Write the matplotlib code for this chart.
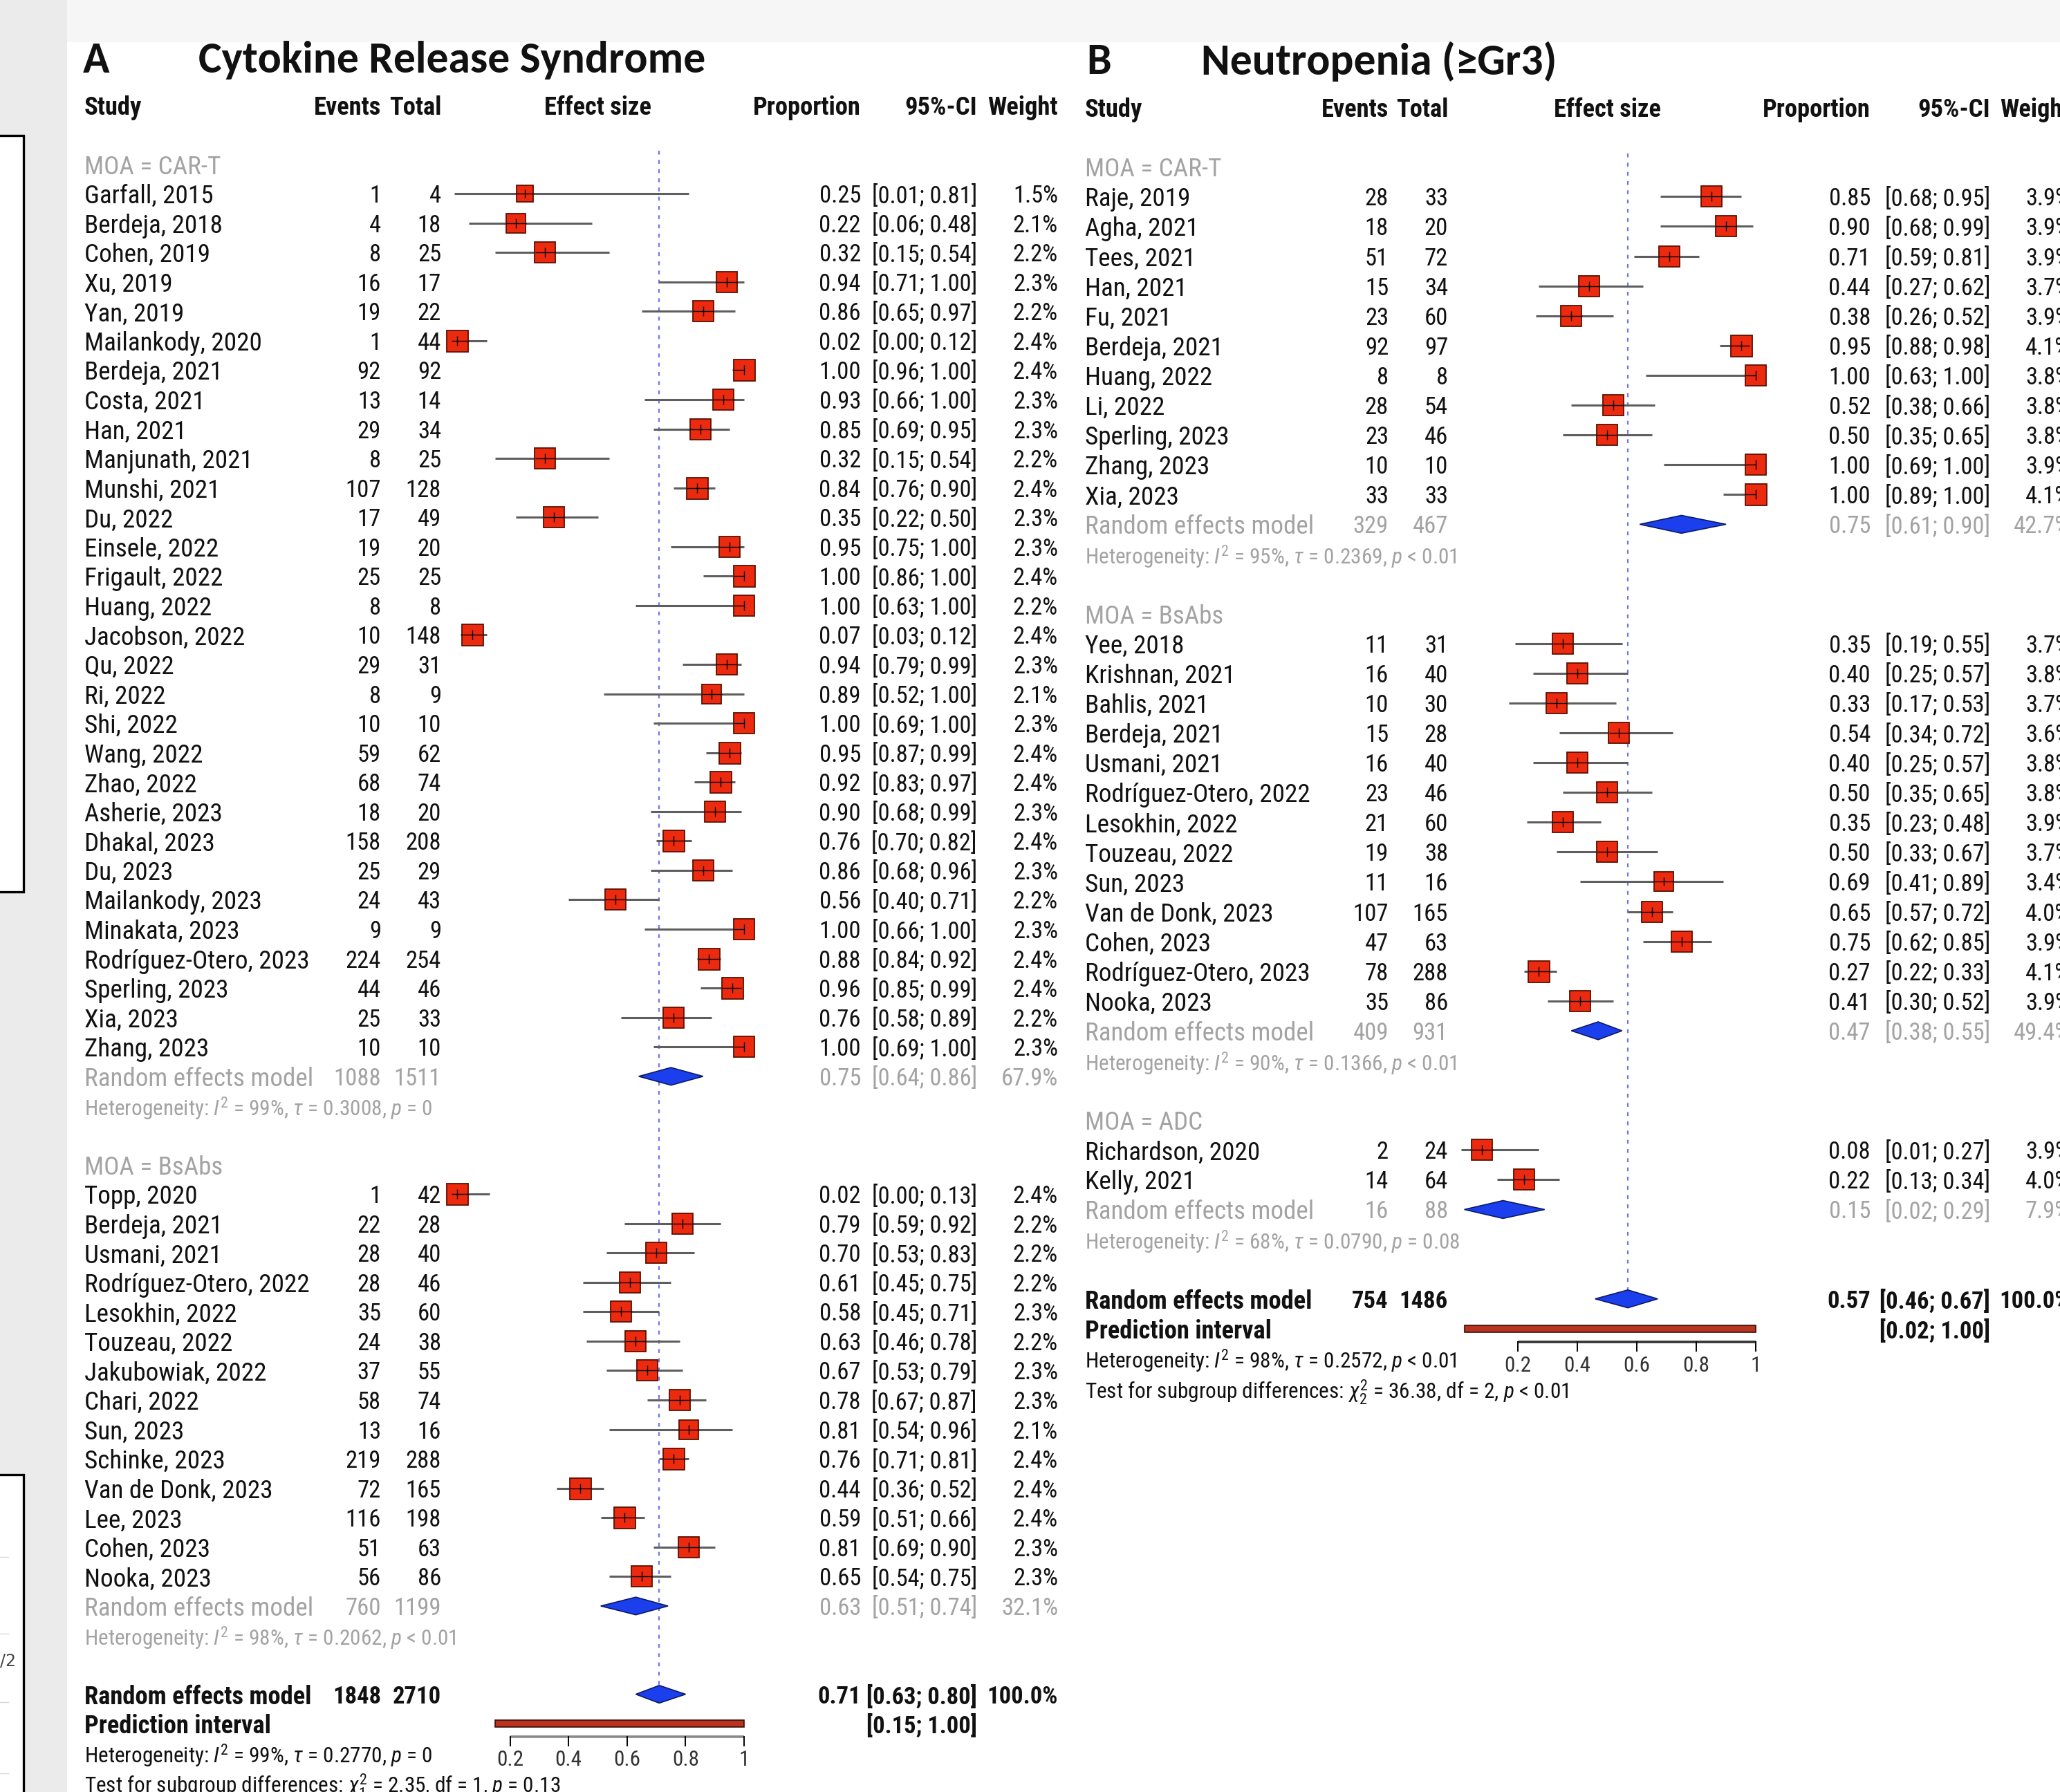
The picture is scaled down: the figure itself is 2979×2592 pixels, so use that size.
import matplotlib.pyplot as plt
from matplotlib.patches import Polygon, Rectangle
from matplotlib.textpath import TextPath
from matplotlib.font_manager import FontProperties

# ---------------- A: Cytokine Release Syndrome ----------------
crs_cart_study = ["Garfall, 2015", "Berdeja, 2018", "Cohen, 2019", "Xu, 2019", "Yan, 2019",
                  "Mailankody, 2020", "Berdeja, 2021", "Costa, 2021", "Han, 2021", "Manjunath, 2021",
                  "Munshi, 2021", "Du, 2022", "Einsele, 2022", "Frigault, 2022", "Huang, 2022",
                  "Jacobson, 2022", "Qu, 2022", "Ri, 2022", "Shi, 2022", "Wang, 2022", "Zhao, 2022",
                  "Asherie, 2023", "Dhakal, 2023", "Du, 2023", "Mailankody, 2023", "Minakata, 2023",
                  "Rodríguez-Otero, 2023", "Sperling, 2023", "Xia, 2023", "Zhang, 2023"]
crs_cart_events = [1, 4, 8, 16, 19, 1, 92, 13, 29, 8, 107, 17, 19, 25, 8, 10, 29, 8, 10, 59, 68,
                   18, 158, 25, 24, 9, 224, 44, 25, 10]
crs_cart_total = [4, 18, 25, 17, 22, 44, 92, 14, 34, 25, 128, 49, 20, 25, 8, 148, 31, 9, 10, 62, 74,
                  20, 208, 29, 43, 9, 254, 46, 33, 10]
crs_cart_prop = [0.25, 0.22, 0.32, 0.94, 0.86, 0.02, 1.00, 0.93, 0.85, 0.32, 0.84, 0.35, 0.95, 1.00,
                 1.00, 0.07, 0.94, 0.89, 1.00, 0.95, 0.92, 0.90, 0.76, 0.86, 0.56, 1.00, 0.88, 0.96,
                 0.76, 1.00]
crs_cart_lo = [0.01, 0.06, 0.15, 0.71, 0.65, 0.00, 0.96, 0.66, 0.69, 0.15, 0.76, 0.22, 0.75, 0.86,
               0.63, 0.03, 0.79, 0.52, 0.69, 0.87, 0.83, 0.68, 0.70, 0.68, 0.40, 0.66, 0.84, 0.85,
               0.58, 0.69]
crs_cart_hi = [0.81, 0.48, 0.54, 1.00, 0.97, 0.12, 1.00, 1.00, 0.95, 0.54, 0.90, 0.50, 1.00, 1.00,
               1.00, 0.12, 0.99, 1.00, 1.00, 0.99, 0.97, 0.99, 0.82, 0.96, 0.71, 1.00, 0.92, 0.99,
               0.89, 1.00]
crs_cart_weight = [1.5, 2.1, 2.2, 2.3, 2.2, 2.4, 2.4, 2.3, 2.3, 2.2, 2.4, 2.3, 2.3, 2.4, 2.2, 2.4,
                   2.3, 2.1, 2.3, 2.4, 2.4, 2.3, 2.4, 2.3, 2.2, 2.3, 2.4, 2.4, 2.2, 2.3]
crs_cart_re = (1088, 1511, 0.75, 0.64, 0.86, 67.9)
crs_cart_het = r"Heterogeneity: $I^2$ = 99%, $\tau$ = 0.3008, $p$ = 0"

crs_bsab_study = ["Topp, 2020", "Berdeja, 2021", "Usmani, 2021", "Rodríguez-Otero, 2022",
                  "Lesokhin, 2022", "Touzeau, 2022", "Jakubowiak, 2022", "Chari, 2022", "Sun, 2023",
                  "Schinke, 2023", "Van de Donk, 2023", "Lee, 2023", "Cohen, 2023", "Nooka, 2023"]
crs_bsab_events = [1, 22, 28, 28, 35, 24, 37, 58, 13, 219, 72, 116, 51, 56]
crs_bsab_total = [42, 28, 40, 46, 60, 38, 55, 74, 16, 288, 165, 198, 63, 86]
crs_bsab_prop = [0.02, 0.79, 0.70, 0.61, 0.58, 0.63, 0.67, 0.78, 0.81, 0.76, 0.44, 0.59, 0.81, 0.65]
crs_bsab_lo = [0.00, 0.59, 0.53, 0.45, 0.45, 0.46, 0.53, 0.67, 0.54, 0.71, 0.36, 0.51, 0.69, 0.54]
crs_bsab_hi = [0.13, 0.92, 0.83, 0.75, 0.71, 0.78, 0.79, 0.87, 0.96, 0.81, 0.52, 0.66, 0.90, 0.75]
crs_bsab_weight = [2.4, 2.2, 2.2, 2.2, 2.3, 2.2, 2.3, 2.3, 2.1, 2.4, 2.4, 2.4, 2.3, 2.3]
crs_bsab_re = (760, 1199, 0.63, 0.51, 0.74, 32.1)
crs_bsab_het = r"Heterogeneity: $I^2$ = 98%, $\tau$ = 0.2062, $p$ < 0.01"

crs_overall = (1848, 2710, 0.71, 0.63, 0.80, 100.0)
crs_pred = (0.15, 1.00)
crs_het = r"Heterogeneity: $I^2$ = 99%, $\tau$ = 0.2770, $p$ = 0"
crs_test = r"Test for subgroup differences: $\chi^2_1$ = 2.35, df = 1, $p$ = 0.13"

# ---------------- B: Neutropenia (>=Gr3) ----------------
neu_cart_study = ["Raje, 2019", "Agha, 2021", "Tees, 2021", "Han, 2021", "Fu, 2021", "Berdeja, 2021",
                  "Huang, 2022", "Li, 2022", "Sperling, 2023", "Zhang, 2023", "Xia, 2023"]
neu_cart_events = [28, 18, 51, 15, 23, 92, 8, 28, 23, 10, 33]
neu_cart_total = [33, 20, 72, 34, 60, 97, 8, 54, 46, 10, 33]
neu_cart_prop = [0.85, 0.90, 0.71, 0.44, 0.38, 0.95, 1.00, 0.52, 0.50, 1.00, 1.00]
neu_cart_lo = [0.68, 0.68, 0.59, 0.27, 0.26, 0.88, 0.63, 0.38, 0.35, 0.69, 0.89]
neu_cart_hi = [0.95, 0.99, 0.81, 0.62, 0.52, 0.98, 1.00, 0.66, 0.65, 1.00, 1.00]
neu_cart_weight = [3.9, 3.9, 3.9, 3.7, 3.9, 4.1, 3.8, 3.8, 3.8, 3.9, 4.1]
neu_cart_re = (329, 467, 0.75, 0.61, 0.90, 42.7)
neu_cart_het = r"Heterogeneity: $I^2$ = 95%, $\tau$ = 0.2369, $p$ < 0.01"

neu_bsab_study = ["Yee, 2018", "Krishnan, 2021", "Bahlis, 2021", "Berdeja, 2021", "Usmani, 2021",
                  "Rodríguez-Otero, 2022", "Lesokhin, 2022", "Touzeau, 2022", "Sun, 2023",
                  "Van de Donk, 2023", "Cohen, 2023", "Rodríguez-Otero, 2023", "Nooka, 2023"]
neu_bsab_events = [11, 16, 10, 15, 16, 23, 21, 19, 11, 107, 47, 78, 35]
neu_bsab_total = [31, 40, 30, 28, 40, 46, 60, 38, 16, 165, 63, 288, 86]
neu_bsab_prop = [0.35, 0.40, 0.33, 0.54, 0.40, 0.50, 0.35, 0.50, 0.69, 0.65, 0.75, 0.27, 0.41]
neu_bsab_lo = [0.19, 0.25, 0.17, 0.34, 0.25, 0.35, 0.23, 0.33, 0.41, 0.57, 0.62, 0.22, 0.30]
neu_bsab_hi = [0.55, 0.57, 0.53, 0.72, 0.57, 0.65, 0.48, 0.67, 0.89, 0.72, 0.85, 0.33, 0.52]
neu_bsab_weight = [3.7, 3.8, 3.7, 3.6, 3.8, 3.8, 3.9, 3.7, 3.4, 4.0, 3.9, 4.1, 3.9]
neu_bsab_re = (409, 931, 0.47, 0.38, 0.55, 49.4)
neu_bsab_het = r"Heterogeneity: $I^2$ = 90%, $\tau$ = 0.1366, $p$ < 0.01"

neu_adc_study = ["Richardson, 2020", "Kelly, 2021"]
neu_adc_events = [2, 14]
neu_adc_total = [24, 64]
neu_adc_prop = [0.08, 0.22]
neu_adc_lo = [0.01, 0.13]
neu_adc_hi = [0.27, 0.34]
neu_adc_weight = [3.9, 4.0]
neu_adc_re = (16, 88, 0.15, 0.02, 0.29, 7.9)
neu_adc_het = r"Heterogeneity: $I^2$ = 68%, $\tau$ = 0.0790, $p$ = 0.08"

neu_overall = (754, 1486, 0.57, 0.46, 0.67, 100.0)
neu_pred = (0.02, 1.00)
neu_het = r"Heterogeneity: $I^2$ = 98%, $\tau$ = 0.2572, $p$ < 0.01"
neu_test = r"Test for subgroup differences: $\chi^2_2$ = 36.38, df = 2, $p$ < 0.01"

tick_vals = [0.2, 0.4, 0.6, 0.8, 1.0]
tick_labels = ["0.2", "0.4", "0.6", "0.8", "1"]

# ---------------- style ----------------
BODY = 'Roboto Condensed'
TITLE_FONT = 'Carlito'
plt.rcParams['font.family'] = [BODY, 'DejaVu Sans']
plt.rcParams['mathtext.fontset'] = 'custom'
plt.rcParams['mathtext.rm'] = BODY
plt.rcParams['mathtext.it'] = BODY + ':italic'
plt.rcParams['mathtext.bf'] = BODY + ':bold'


def fit_size(s, target_px, family, weight='normal'):
    # font size (pt) that makes string s about target_px wide at dpi 100
    fp = FontProperties(family=family, weight=weight, size=100)
    w = TextPath((0, 0), s, prop=fp).get_extents().width
    return 72.0 * target_px / w


FS = fit_size("Rodríguez-Otero, 2023", 321, BODY)
FS_NUM = fit_size("0.25", 57, BODY)
FS_CI = fit_size("[0.01; 0.81]", 148, BODY)
FS_HEAD = fit_size("Proportion", 152, BODY, 'bold')
FS_HET = fit_size("Heterogeneity: $I^2$ = 99%, $\\tau$ = 0.3008, $p$ = 0", 500, BODY)
FS_TICK = FS_HET
FS_TITLE = fit_size("Cytokine Release Syndrome", 730, TITLE_FONT, 'bold')

GREY = '#a3a3a3'
SQ_FACE, SQ_EDGE = '#ec2a10', '#5c1000'
DIA_FACE, DIA_EDGE = '#1b3fec', '#0b1a66'
CI_COL = '#5e5e5e'
SQ_MAX = 31  # px

W, H = 2979, 2592
fig = plt.figure(figsize=(W / 100, H / 100), dpi=100)
fig.patch.set_facecolor('white')

# screenshot surroundings
fig.add_artist(Rectangle((0, 1 - 61 / H), 1, 61 / H, transform=fig.transFigure,
                         facecolor='#f6f6f6', edgecolor='none', zorder=0))
fig.add_artist(Rectangle((0, 0), 97 / W, 1, transform=fig.transFigure,
                         facecolor='#ebebeb', edgecolor='none', zorder=0))
fig.add_artist(Rectangle((-10 / W, 1 - 1290 / H), 44 / W, (1290 - 196) / H, transform=fig.transFigure,
                         facecolor='white', edgecolor='black', lw=2.4, zorder=1))
fig.add_artist(Rectangle((-10 / W, -10 / H), 44 / W, (2592 - 2133 + 10) / H, transform=fig.transFigure,
                         facecolor='white', edgecolor='black', lw=2.4, zorder=1))
for yy in [2252, 2363, 2462, 2565]:
    fig.add_artist(plt.Line2D([0, 12 / W], [1 - yy / H, 1 - yy / H], transform=fig.transFigure,
                              color='#d8d8d8', lw=1, zorder=2))
fig.text(0, 1 - 2402 / H, "/2", fontsize=17, color='#444444', ha='left', va='center',
         family='DejaVu Sans', zorder=2)


def panel_axes(x0, sx, y0, dy):
    ax = fig.add_axes([0, 0, 1, 1])
    ax.set_xlim(-x0 / sx, (W - x0) / sx)
    ax.set_ylim((H - y0) / dy, -y0 / dy)
    ax.axis('off')
    ax.patch.set_alpha(0)
    return ax


def make_group(label, study, events, total, prop, lo, hi, weight, re, het):
    return dict(label=label, study=study, events=events, total=total, prop=prop,
                lo=lo, hi=hi, weight=weight, re=re, het=het)


def txt(ax, x, y, s, ha='right', color='#111111', weight='normal', fs=None, **kw):
    ax.text(x, y, s, ha=ha, va='center_baseline', color=color, fontweight=weight,
            fontsize=FS if fs is None else fs, **kw)


def value_cols(ax, cols, r, ev, tot, p, lo, hi, w, color='#111111', weight='normal'):
    txt(ax, cols['ev'], r, str(ev), color=color, weight=weight, fs=FS_NUM)
    txt(ax, cols['tot'], r, str(tot), color=color, weight=weight, fs=FS_NUM)
    txt(ax, cols['prop'], r, f"{p:.2f}", color=color, weight=weight, fs=FS_NUM)
    txt(ax, cols['ci'], r, f"[{lo:.2f}; {hi:.2f}]", color=color, weight=weight, fs=FS_CI)
    txt(ax, cols['w'], r, f"{w:.1f}%", color=color, weight=weight, fs=FS_NUM)


def diamond(ax, r, p, lo, hi):
    ax.add_patch(Polygon([[lo, r], [p, r - 0.3], [hi, r], [p, r + 0.3]], closed=True,
                         facecolor=DIA_FACE, edgecolor=DIA_EDGE, lw=1.2, zorder=4))


def draw_panel(ax, sx, x0, px, letter, title, groups, overall, pred, het_all, test_txt, axis_col):
    cols = {k: (v - x0) / sx for k, v in px.items()}
    wmax = max(max(g['weight']) for g in groups)

    txt(ax, cols['letter'], -3.65, letter, ha='left', weight='bold', fs=FS_TITLE, family=TITLE_FONT)
    txt(ax, cols['title'], -3.65, title, ha='left', weight='bold', fs=FS_TITLE, family=TITLE_FONT)
    hr = -2
    for key, lab, ha in [('study', "Study", 'left'), ('ev', "Events", 'right'), ('tot', "Total", 'right'),
                         ('prop', "Proportion", 'right'), ('ci', "95%-CI", 'right'), ('w', "Weight", 'right')]:
        txt(ax, cols[key], hr, lab, ha=ha, weight='bold', fs=FS_HEAD)
    txt(ax, 0.5, hr, "Effect size", ha='center', weight='bold', fs=FS_HEAD)

    r = 0
    for g in groups:
        txt(ax, cols['study'], r, g['label'], ha='left', color=GREY)
        for i, name in enumerate(g['study']):
            rr = r + 1 + i
            p, lo, hi, w = g['prop'][i], g['lo'][i], g['hi'][i], g['weight'][i]
            txt(ax, cols['study'], rr, name, ha='left')
            value_cols(ax, cols, rr, g['events'][i], g['total'][i], p, lo, hi, w)
            side = SQ_MAX * (w / wmax) ** 0.5
            ax.plot([lo, hi], [rr, rr], color=CI_COL, lw=2.2, solid_capstyle='butt', zorder=3)
            ax.plot([p], [rr], marker='s', ms=side * 0.72, mfc=SQ_FACE, mec=SQ_EDGE,
                    mew=1.3, ls='none', zorder=4)
            half = side / 2 / sx
            ax.plot([max(lo, p - half), min(hi, p + half)], [rr, rr], color='black', lw=1.0,
                    solid_capstyle='butt', zorder=5)
            ax.plot([p], [rr], marker='|', ms=side * 0.72 * 0.45, mec='black', mew=1.0,
                    ls='none', zorder=5)
        rr = r + len(g['study']) + 1
        ev, tot, p, lo, hi, w = g['re']
        txt(ax, cols['study'], rr, "Random effects model", ha='left', color=GREY)
        value_cols(ax, cols, rr, ev, tot, p, lo, hi, w, color=GREY)
        diamond(ax, rr, p, lo, hi)
        txt(ax, cols['study'], rr + 1, g['het'], ha='left', color=GREY, fs=FS_HET)
        r = rr + 3

    ev, tot, p, lo, hi, w = overall
    txt(ax, cols['study'], r, "Random effects model", ha='left', weight='bold', fs=FS_HEAD)
    value_cols(ax, cols, r, ev, tot, p, lo, hi, w, weight='bold')
    diamond(ax, r, p, lo, hi)
    ax.plot([p, p], [-0.45, r - 0.3], color='#7474e6', lw=1.6, ls=(0, (2.5, 3.5)), zorder=2)

    txt(ax, cols['study'], r + 1, "Prediction interval", ha='left', weight='bold', fs=FS_HEAD)
    txt(ax, cols['ci'], r + 1, f"[{pred[0]:.2f}; {pred[1]:.2f}]", weight='bold', fs=FS_CI)
    ax.add_patch(Rectangle((pred[0], r + 1 - 0.12), pred[1] - pred[0], 0.24,
                           facecolor='#b8341f', edgecolor='#3a0c05', lw=1.2, zorder=4))

    ya = r + 1.45
    ax.plot([tick_vals[0], tick_vals[-1]], [ya, ya], color=axis_col, lw=2.6,
            solid_capstyle='butt', zorder=3)
    for tv, tl in zip(tick_vals, tick_labels):
        ax.plot([tv, tv], [ya, ya + 0.3], color='black', lw=1.4, zorder=3)
        txt(ax, tv, ya + 0.72, tl, ha='center', color='#333333', fs=FS_TICK)

    txt(ax, cols['study'], r + 2, het_all, ha='left', fs=FS_HET)
    txt(ax, cols['study'], r + 3, test_txt, ha='left', fs=FS_HET)


# panel A
xa0, sxa = 653, 423
ax_a = panel_axes(xa0, sxa, 237.5, 42.56)
px_a = dict(study=122, ev=551, tot=638, prop=1245, ci=1413, w=1530, letter=120, title=287)
groups_a = [
    make_group("MOA = CAR-T", crs_cart_study, crs_cart_events, crs_cart_total, crs_cart_prop,
               crs_cart_lo, crs_cart_hi, crs_cart_weight, crs_cart_re, crs_cart_het),
    make_group("MOA = BsAbs", crs_bsab_study, crs_bsab_events, crs_bsab_total, crs_bsab_prop,
               crs_bsab_lo, crs_bsab_hi, crs_bsab_weight, crs_bsab_re, crs_bsab_het),
]
draw_panel(ax_a, sxa, xa0, px_a, "A", "Cytokine Release Syndrome", groups_a,
           crs_overall, crs_pred, crs_het, crs_test, '#8a8a8a')

# panel B
xb0, sxb = 2109, 430
ax_b = panel_axes(xb0, sxb, 241.3, 43.09)
px_b = dict(study=1569, ev=2008, tot=2094, prop=2705, ci=2878, w=2994, letter=1571, title=1737)
groups_b = [
    make_group("MOA = CAR-T", neu_cart_study, neu_cart_events, neu_cart_total, neu_cart_prop,
               neu_cart_lo, neu_cart_hi, neu_cart_weight, neu_cart_re, neu_cart_het),
    make_group("MOA = BsAbs", neu_bsab_study, neu_bsab_events, neu_bsab_total, neu_bsab_prop,
               neu_bsab_lo, neu_bsab_hi, neu_bsab_weight, neu_bsab_re, neu_bsab_het),
    make_group("MOA = ADC", neu_adc_study, neu_adc_events, neu_adc_total, neu_adc_prop,
               neu_adc_lo, neu_adc_hi, neu_adc_weight, neu_adc_re, neu_adc_het),
]
draw_panel(ax_b, sxb, xb0, px_b, "B", "Neutropenia (≥Gr3)", groups_b,
           neu_overall, neu_pred, neu_het, neu_test, '#333333')

fig.savefig("out.png", dpi=100, facecolor='white')
